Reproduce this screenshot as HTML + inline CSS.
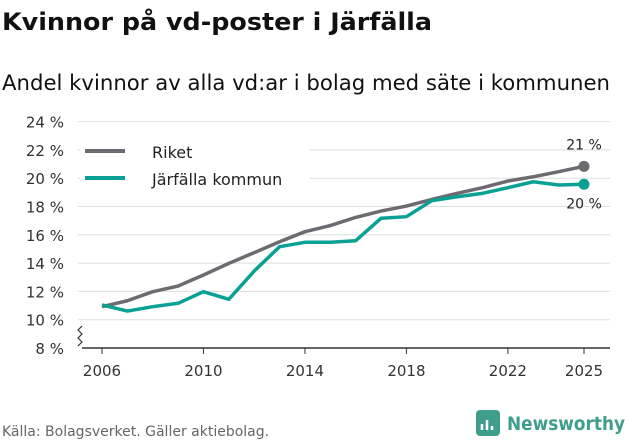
<!DOCTYPE html>
<html><head><meta charset="utf-8"><style>
body{margin:0;width:631px;height:439px;background:#fff;font-family:"Liberation Sans","DejaVu Sans",sans-serif;overflow:hidden}
</style></head><body>
<svg width="631" height="439" xmlns="http://www.w3.org/2000/svg" font-family="'DejaVu Sans','Liberation Sans',sans-serif">
<text x="2" y="30" font-size="24" font-weight="bold" fill="#111" textLength="430" lengthAdjust="spacingAndGlyphs">Kvinnor på vd-poster i Järfälla</text>
<text x="2" y="90" font-size="21" fill="#111" textLength="608" lengthAdjust="spacingAndGlyphs">Andel kvinnor av alla vd:ar i bolag med säte i kommunen</text>
<g id="grid"></g><g id="yt"></g><g id="xt"></g><g id="lines"></g>
<path d="M82 348 H610" stroke="#333" stroke-width="1.5"/>
<path d="M78 346 l4 -4 l-4 -4 l4 -4 l-4 -4 l4 -4" stroke="#333" fill="none" stroke-width="1.2"/>
<rect x="80" y="138" width="230" height="55" fill="#fff"/>
<line x1="85" y1="151" x2="125" y2="151" stroke="#6d6b71" stroke-width="4"/>
<text x="152" y="158" font-size="16" fill="#222">Riket</text>
<line x1="85" y1="178" x2="125" y2="178" stroke="#0aa195" stroke-width="4"/>
<text x="152" y="185" font-size="16" fill="#222">Järfälla kommun</text>
<text x="2" y="436" font-size="14" fill="#666">Källa: Bolagsverket. Gäller aktiebolag.</text>
<g>
<rect x="476" y="410" width="24" height="26" rx="4" fill="#3e9e8b"/>
<path d="M482 430 v-6 M487 430 v-10 M492 430 v-4" stroke="#fff" stroke-width="2.5"/>
<text x="507" y="430" font-size="19" font-weight="bold" fill="#3e9e8b" textLength="118" lengthAdjust="spacingAndGlyphs">Newsworthy</text>
</g>
</svg>
<script>
const years=[2006,2007,2008,2009,2010,2011,2012,2013,2014,2015,2016,2017,2018,2019,2020,2021,2022,2023,2024,2025];
const riket=[10.92,11.34,11.98,12.38,13.16,13.98,14.74,15.51,16.22,16.65,17.23,17.68,18.03,18.5,18.93,19.33,19.8,20.1,20.46,20.84];
const jarfalla=[11.04,10.61,10.92,11.16,11.98,11.44,13.44,15.16,15.47,15.47,15.58,17.17,17.28,18.41,18.69,18.93,19.33,19.75,19.52,19.57];
const yTicks=[8,10,12,14,16,18,20,22,24];
const xTicks=[2006,2010,2014,2018,2022,2025];
const NS="http://www.w3.org/2000/svg";
const x=v=>102+(v-2006)*(584-102)/19;
const y=v=>348-(v-8)*14.15;
function mk(t,a,p){const e=document.createElementNS(NS,t);for(const k in a)e.setAttribute(k,a[k]);document.getElementById(p).appendChild(e);return e;}
yTicks.forEach(v=>{
 if(v>8){const g=mk('line',{x1:78,x2:610,y1:y(v),y2:y(v),stroke:'#ddd','stroke-width':1},'grid');
 
 }
 const t=mk('text',{x:64,y:y(v)+6,'text-anchor':'end','font-size':15,fill:'#333'},'yt');t.textContent=v+' %';
 
 
});
xTicks.forEach(v=>{
 const l=mk('line',{x1:x(v),x2:x(v),y1:348,y2:354,stroke:'#333'},'xt');
 
 
 const t=mk('text',{x:x(v),y:376,'text-anchor':'middle','font-size':15,fill:'#333'},'xt');t.textContent=v;
 
 
});
function series(d,c,name,dy){
 const p=mk('polyline',{points:d.map((v,i)=>x(years[i])+','+y(v)).join(' '),fill:'none',stroke:c,'stroke-width':3.5,'stroke-linejoin':'round'},'lines');
 
 
 const n=d.length-1;
 const c1=mk('circle',{cx:x(years[n]),cy:y(d[n]),r:5.5,fill:c},'lines');
 
 
 const t=mk('text',{x:x(years[n]),y:y(d[n])+dy,'text-anchor':'middle','font-size':14,fill:'#222'},'lines');
 t.textContent=Math.round(d[n])+' %';
 
 
}
series(riket,'#6d6b71','riket',-17);
series(jarfalla,'#0aa195','jarfalla',24);
</script>
</body></html>
